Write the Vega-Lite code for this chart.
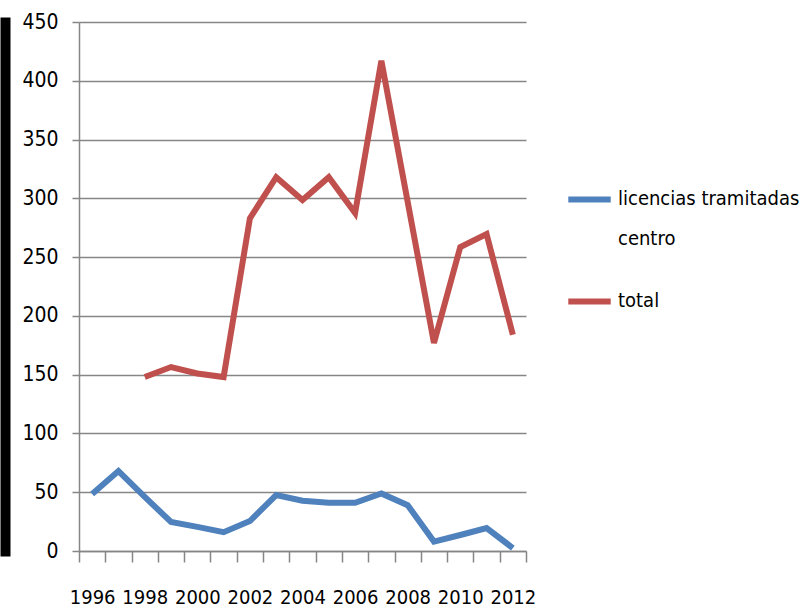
{
  "$schema": "https://vega.github.io/schema/vega-lite/v6.json",
  "width": 447,
  "height": 529,
  "autosize": {"type": "none"},
  "padding": {"left": 79, "top": 22, "right": 274, "bottom": 61},
  "background": "white",
  "config": {
    "view": {"stroke": null},
    "font": "DejaVu Sans Condensed"
  },
  "data": {
    "values": [
      {"year": "1996", "series": "licencias tramitadas centro", "value": 48.5},
      {"year": "1997", "series": "licencias tramitadas centro", "value": 68},
      {"year": "1998", "series": "licencias tramitadas centro", "value": 46},
      {"year": "1999", "series": "licencias tramitadas centro", "value": 24.7},
      {"year": "2000", "series": "licencias tramitadas centro", "value": 20.5},
      {"year": "2001", "series": "licencias tramitadas centro", "value": 16},
      {"year": "2002", "series": "licencias tramitadas centro", "value": 25.5},
      {"year": "2003", "series": "licencias tramitadas centro", "value": 47.6},
      {"year": "2004", "series": "licencias tramitadas centro", "value": 42.8},
      {"year": "2005", "series": "licencias tramitadas centro", "value": 41},
      {"year": "2006", "series": "licencias tramitadas centro", "value": 41},
      {"year": "2007", "series": "licencias tramitadas centro", "value": 49},
      {"year": "2008", "series": "licencias tramitadas centro", "value": 39},
      {"year": "2009", "series": "licencias tramitadas centro", "value": 8},
      {"year": "2010", "series": "licencias tramitadas centro", "value": 13.6},
      {"year": "2011", "series": "licencias tramitadas centro", "value": 19.5},
      {"year": "2012", "series": "licencias tramitadas centro", "value": 2.5},
      {"year": "1998", "series": "total", "value": 148},
      {"year": "1999", "series": "total", "value": 156.5},
      {"year": "2000", "series": "total", "value": 151},
      {"year": "2001", "series": "total", "value": 148},
      {"year": "2002", "series": "total", "value": 283},
      {"year": "2003", "series": "total", "value": 318},
      {"year": "2004", "series": "total", "value": 298.6},
      {"year": "2005", "series": "total", "value": 318},
      {"year": "2006", "series": "total", "value": 287.5},
      {"year": "2007", "series": "total", "value": 417},
      {"year": "2008", "series": "total", "value": 297},
      {"year": "2009", "series": "total", "value": 177},
      {"year": "2010", "series": "total", "value": 258.6},
      {"year": "2011", "series": "total", "value": 269.6},
      {"year": "2012", "series": "total", "value": 184}
    ]
  },
  "encoding": {
    "x": {
      "field": "year",
      "type": "ordinal",
      "bandPosition": 0.5,
      "scale": {"type": "band", "paddingInner": 0, "paddingOuter": 0},
      "axis": {
        "title": null,
        "labelAngle": 0,
        "tickBand": "extent",
        "labelOverlap": false,
        "labelExpr": "parseInt(datum.value) % 2 == 0 ? datum.label : ''",
        "labelFontSize": 20,
        "labelColor": "#000000",
        "labelPadding": 25,
        "tickSize": 11,
        "tickColor": "#868686",
        "domainColor": "#868686",
        "domainWidth": 1.5,
        "tickWidth": 1.5,
        "grid": false
      }
    }
  },
  "layer": [
    {
      "mark": {"type": "line", "opacity": 0},
      "encoding": {
        "y": {
          "field": "value",
          "type": "quantitative",
          "scale": {"domain": [0, 450], "nice": false},
          "axis": {
            "title": null,
            "orient": "left",
            "offset": 74,
            "labels": false,
            "ticks": false,
            "grid": false,
            "domainColor": "#000000",
            "domainWidth": 10,
            "domainCap": "square"
          }
        }
      }
    },
    {
      "mark": {"type": "line", "strokeWidth": 6, "strokeJoin": "miter", "strokeCap": "butt"},
      "encoding": {
        "y": {
          "field": "value",
          "type": "quantitative",
          "scale": {"domain": [0, 450], "nice": false},
          "axis": {
            "title": null,
            "orient": "left",
            "offset": 0,
            "values": [0, 50, 100, 150, 200, 250, 300, 350, 400, 450],
            "labelFontSize": 21,
            "labelColor": "#000000",
            "labelPadding": 14,
            "tickSize": 7,
            "tickColor": "#868686",
            "tickWidth": 1.5,
            "domainColor": "#868686",
            "domainWidth": 1.5,
            "grid": true,
            "gridColor": "#868686",
            "gridWidth": 1.5
          }
        },
        "color": {
          "field": "series",
          "type": "nominal",
          "scale": {
            "domain": ["licencias tramitadas centro", "total"],
            "range": ["#4F81BD", "#C0504D"]
          },
          "legend": {
            "title": null,
            "orient": "none",
            "legendX": 486,
            "legendY": 153,
            "symbolType": "stroke",
            "symbolSize": 1800,
            "symbolStrokeWidth": 6,
            "labelFontSize": 20,
            "labelColor": "#000000",
            "labelOffset": 4,
            "labelLimit": 400,
            "rowPadding": 28,
            "labelBaseline": "top",
            "labelExpr": "datum.label == 'licencias tramitadas centro' ? ['licencias tramitadas', 'centro'] : datum.label",
            "labelSeparation": 0,
            "encode": {
              "labels": {"update": {"lineHeight": {"value": 40}, "dy": {"value": -11}}}
            }
          }
        }
      }
    }
  ],
  "resolve": {"axis": {"y": "independent"}}
}
